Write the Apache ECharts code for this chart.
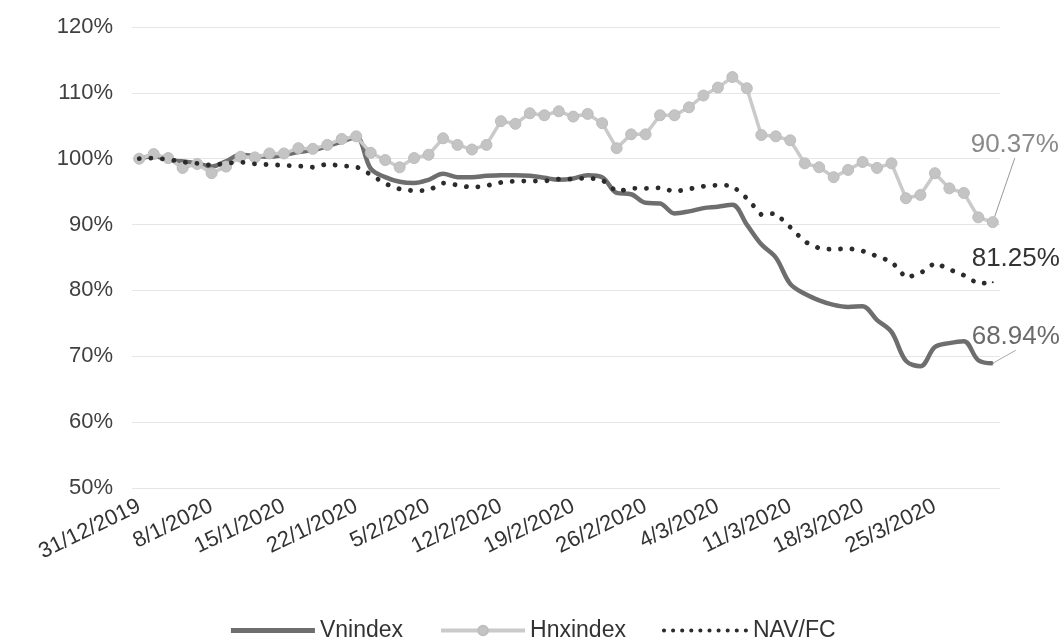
<!DOCTYPE html>
<html>
<head>
<meta charset="utf-8">
<script src="https://cdn.jsdelivr.net/npm/echarts@6/dist/echarts.min.js"></script>
<style>
  html, body { margin: 0; padding: 0; background: #ffffff; }
  #chart { width: 1064px; height: 643px; }
</style>
</head>
<body>
<div id="chart"></div>
<script>
// Trading sessions, 31/12/2019 – 31/3/2020 (Tet break 23/1–29/1)
const categories = [
  '31/12/2019', '2/1/2020', '3/1/2020', '6/1/2020', '7/1/2020',
  '8/1/2020', '9/1/2020', '10/1/2020', '13/1/2020', '14/1/2020',
  '15/1/2020', '16/1/2020', '17/1/2020', '20/1/2020', '21/1/2020',
  '22/1/2020', '30/1/2020', '31/1/2020', '3/2/2020', '4/2/2020',
  '5/2/2020', '6/2/2020', '7/2/2020', '10/2/2020', '11/2/2020',
  '12/2/2020', '13/2/2020', '14/2/2020', '17/2/2020', '18/2/2020',
  '19/2/2020', '20/2/2020', '21/2/2020', '24/2/2020', '25/2/2020',
  '26/2/2020', '27/2/2020', '28/2/2020', '2/3/2020', '3/3/2020',
  '4/3/2020', '5/3/2020', '6/3/2020', '9/3/2020', '10/3/2020',
  '11/3/2020', '12/3/2020', '13/3/2020', '16/3/2020', '17/3/2020',
  '18/3/2020', '19/3/2020', '20/3/2020', '23/3/2020', '24/3/2020',
  '25/3/2020', '26/3/2020', '27/3/2020', '30/3/2020', '31/3/2020'
];

// Performance relative to 31/12/2019 (%)
const vnindex = [
  100.0, 100.4, 99.8, 99.6, 99.3, 98.8, 99.6, 100.6, 100.4, 100.3,
  100.6, 101.0, 101.3, 101.9, 102.6, 103.3, 98.5, 97.2, 96.5, 96.3,
  96.8, 97.7, 97.2, 97.2, 97.4, 97.5, 97.5, 97.4, 97.1, 96.8,
  97.0, 97.5, 97.2, 94.8, 94.6, 93.3, 93.2, 91.7, 92.0, 92.5,
  92.7, 93.0, 90.0, 87.0, 85.0, 81.0, 79.5, 78.5, 77.8, 77.5,
  77.6, 75.5, 73.7, 69.3, 68.5, 71.4, 72.0, 72.3, 69.4, 68.94
];

const hnxindex = [
  100.0, 100.7, 100.1, 98.6, 99.2, 97.8, 98.8, 100.3, 100.2, 100.8,
  100.8, 101.6, 101.5, 102.1, 103.0, 103.4, 100.9, 99.8, 98.7, 100.1,
  100.6, 103.1, 102.1, 101.4, 102.1, 105.7, 105.3, 106.9, 106.6, 107.2,
  106.4, 106.8, 105.4, 101.6, 103.7, 103.7, 106.6, 106.6, 107.8, 109.6,
  110.8, 112.4, 110.7, 103.6, 103.4, 102.8, 99.3, 98.7, 97.2, 98.3,
  99.5, 98.6, 99.3, 94.0, 94.5, 97.8, 95.5, 94.8, 91.1, 90.37
];

const navfc = [
  100.0, 100.1, 99.9, 99.5, 99.3, 99.0, 99.3, 99.5, 99.2, 99.1,
  99.0, 98.9, 98.7, 99.2, 98.9, 98.8, 97.6, 96.2, 95.4, 95.1,
  95.2, 96.3, 96.0, 95.6, 95.9, 96.4, 96.6, 96.6, 96.6, 96.9,
  96.9, 97.1, 96.8, 95.0, 95.5, 95.5, 95.6, 95.0, 95.4, 95.8,
  96.0, 95.9, 94.0, 91.5, 91.7, 89.6, 87.4, 86.4, 86.2, 86.4,
  86.0, 85.2, 84.4, 81.9, 82.6, 84.2, 83.2, 82.3, 81.0, 81.25
];

// Value-axis ticks (%)
const yMin = 50;
const yMax = 120;
const yStep = 10;

const FONT = '"Liberation Sans", Arial, sans-serif';

const VN_COLOR = '#6e6e6e';
const HNX_LINE = '#cacaca';
const HNX_DOT = '#c4c4c4';
const NAV_COLOR = '#2b2b2b';
const NAV_DASH = [0.1, 11.5];

// Put a value label on the last session of a series
function lastPointLabelled(values, color, dotColor, keepSymbol) {
  return values.map(function (v, i) {
    if (i !== values.length - 1) return v;
    const item = {
      value: v,
      label: {
        show: true,
        position: 'inside',
        formatter: function (p) { return p.value.toFixed(2) + '%'; },
        fontFamily: FONT,
        fontSize: 26,
        color: color
      }
    };
    if (!keepSymbol) {
      item.symbol = 'circle';
      item.symbolSize = 2;
      item.itemStyle = { color: dotColor };
    }
    return item;
  });
}

const chart = echarts.init(document.getElementById('chart'), null, { renderer: 'canvas' });

chart.setOption({
  animation: false,
  backgroundColor: '#ffffff',
  grid: {
    left: 132,
    right: 64,
    top: 27,
    bottom: 155,
    outerBoundsMode: 'none'
  },
  legend: {
    top: 614,
    left: 'center',
    itemWidth: 84,
    itemHeight: 12,
    itemGap: 36,
    selectedMode: false,
    textStyle: { fontFamily: FONT, fontSize: 23, color: '#333333' },
    data: [
      {
        name: 'Vnindex',
        itemStyle: { opacity: 0 },
        lineStyle: { width: 5, color: VN_COLOR }
      },
      {
        name: 'Hnxindex',
        itemStyle: { color: HNX_DOT },
        lineStyle: { width: 4, color: HNX_LINE }
      },
      {
        name: 'NAV/FC',
        itemStyle: { opacity: 0 },
        lineStyle: { width: 4, color: NAV_COLOR, type: [0.1, 9], cap: 'round' }
      }
    ]
  },
  xAxis: {
    type: 'category',
    data: categories,
    boundaryGap: true,
    axisLine: { show: false },
    axisTick: { show: false },
    splitLine: { show: false },
    axisLabel: {
      interval: 4,
      rotate: 26,
      margin: 17,
      fontFamily: FONT,
      fontSize: 22,
      color: '#333333'
    }
  },
  yAxis: {
    type: 'value',
    min: yMin,
    max: yMax,
    interval: yStep,
    axisLine: { show: false },
    axisTick: { show: false },
    splitLine: { lineStyle: { color: '#e6e6e6', width: 1 } },
    axisLabel: {
      formatter: '{value}%',
      margin: 19,
      fontFamily: FONT,
      fontSize: 22,
      color: '#404040'
    }
  },
  series: [
    {
      name: 'Vnindex',
      type: 'line',
      data: lastPointLabelled(vnindex, '#6a6a6a', VN_COLOR, false),
      symbol: 'none',
      smooth: 0.35,
      z: 2,
      lineStyle: { color: VN_COLOR, width: 4.5 },
      itemStyle: { color: VN_COLOR },
      labelLayout: { dx: 23, dy: -26 },
      labelLine: { show: true, lineStyle: { color: '#aaaaaa', width: 1 } },
      emphasis: { disabled: true }
    },
    {
      name: 'Hnxindex',
      type: 'line',
      data: lastPointLabelled(hnxindex, '#8a8a8a', HNX_DOT, true),
      symbol: 'circle',
      symbolSize: 11,
      showSymbol: true,
      showAllSymbol: true,
      z: 3,
      lineStyle: { color: HNX_LINE, width: 3.5 },
      itemStyle: { color: HNX_DOT, borderColor: '#bdbdbd', borderWidth: 1 },
      labelLayout: { dx: 22, dy: -77 },
      labelLine: { show: true, lineStyle: { color: '#999999', width: 1 } },
      emphasis: { disabled: true }
    },
    {
      name: 'NAV/FC',
      type: 'line',
      data: lastPointLabelled(navfc, '#333333', NAV_COLOR, false),
      symbol: 'none',
      z: 4,
      lineStyle: { color: NAV_COLOR, width: 4.8, type: NAV_DASH, cap: 'round' },
      itemStyle: { color: NAV_COLOR },
      labelLayout: { dx: 23, dy: -23 },
      labelLine: { show: false },
      emphasis: { disabled: true }
    }
  ]
});
</script>
</body>
</html>
